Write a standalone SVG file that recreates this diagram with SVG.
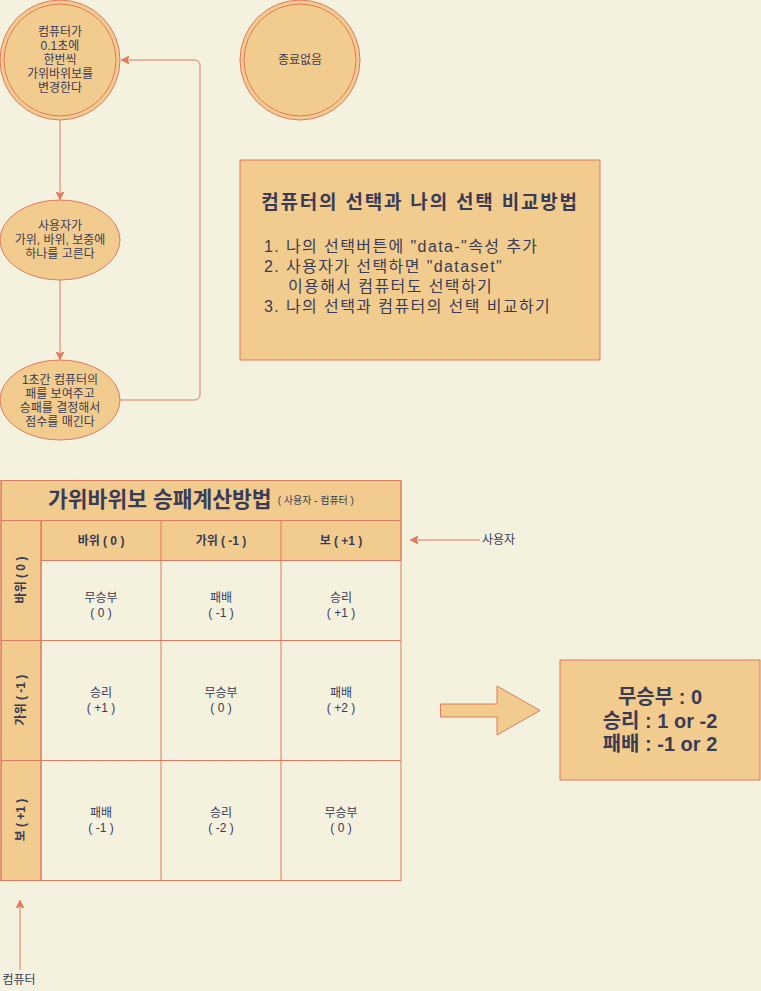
<svg xmlns="http://www.w3.org/2000/svg" width="761" height="991" viewBox="0 0 761 991">
<style>
text{font-family:"Liberation Sans","Noto Sans CJK KR",sans-serif;fill:#393C56;text-anchor:middle;dominant-baseline:central}
.s12{font-size:12px}
.b{font-weight:bold}
.shape{fill:#F2CC8F;stroke:#E07A5F;stroke-width:1}
.cell{fill:none;stroke:#E07A5F;stroke-width:1}
.conn{fill:none;stroke:#E07A5F;stroke-width:1}
.li{font-size:16px;text-anchor:start;letter-spacing:1.4px}
.sum{font-size:20px;font-weight:bold}
</style>
<defs>
<marker id="ah" viewBox="0 0 10 10" refX="9" refY="5" markerWidth="8" markerHeight="8" markerUnits="userSpaceOnUse" orient="auto">
<path d="M0,0 L10,5 L0,10 L2.5,5 Z" fill="#E07A5F" stroke="#E07A5F"/>
</marker>
</defs>
<rect width="761" height="991" fill="#F4F1DE"/>

<g id="node-start">
<circle class="shape" cx="60" cy="60" r="60"/>
<circle class="cell" cx="60" cy="60" r="56"/>
<text class="s12" x="60" y="32">컴퓨터가</text>
<text class="s12" x="60" y="46">0.1초에</text>
<text class="s12" x="60" y="60">한번씩</text>
<text class="s12" x="60" y="74">가위바위보를</text>
<text class="s12" x="60" y="88">변경한다</text>
</g>

<g id="node-end">
<circle class="shape" cx="300" cy="60" r="60"/>
<circle class="cell" cx="300" cy="60" r="56"/>
<text class="s12" x="300" y="60">종료없음</text>
</g>

<g id="node-user">
<ellipse class="shape" cx="60" cy="240" rx="60" ry="40"/>
<text class="s12" x="60" y="226">사용자가</text>
<text class="s12" x="60" y="240">가위, 바위, 보중에</text>
<text class="s12" x="60" y="254">하나를 고른다</text>
</g>

<g id="node-result">
<ellipse class="shape" cx="60" cy="400" rx="60" ry="40"/>
<text class="s12" x="60" y="380">1초간 컴퓨터의</text>
<text class="s12" x="60" y="394">패를 보여주고</text>
<text class="s12" x="60" y="408">승패를 결정해서</text>
<text class="s12" x="60" y="422">점수를 매긴다</text>
</g>

<g id="node-compare">
<rect class="shape" x="240" y="160" width="360" height="200"/>
<text class="b" x="420" y="202" style="font-size:19px;letter-spacing:1.8px">컴퓨터의 선택과 나의 선택 비교방법</text>
<text class="li" x="264" y="246">1. 나의 선택버튼에 "data-"속성 추가</text>
<text class="li" x="264" y="266">2. 사용자가 선택하면 "dataset"</text>
<text class="li" x="288" y="286">이용해서 컴퓨터도 선택하기</text>
<text class="li" x="264" y="306">3. 나의 선택과 컴퓨터의 선택 비교하기</text>
</g>

<g id="node-table">
<rect class="shape" x="1" y="480.5" width="400" height="40"/>
<rect class="shape" x="41" y="520.5" width="360" height="40"/>
<rect class="shape" x="1" y="520.5" width="40" height="360"/>
<rect class="cell" x="1" y="480.5" width="400" height="400"/>
<path class="cell" d="M41,560.5 H401 M1,640.5 H401 M1,760.5 H401 M41,520.5 V880.5 M161,520.5 V880.5 M281,520.5 V880.5"/>
<text x="201" y="500"><tspan class="b" style="font-size:21.5px">가위바위보 승패계산방법</tspan><tspan style="font-size:10px" dx="6">( 사용자 - 컴퓨터 )</tspan></text>
<text class="s12 b" x="101" y="541">바위 ( 0 )</text>
<text class="s12 b" x="221" y="541">가위 ( -1 )</text>
<text class="s12 b" x="341" y="541">보 ( +1 )</text>
<text class="s12 b" transform="translate(21,580) rotate(-90)">바위 ( 0 )</text>
<text class="s12 b" transform="translate(21,700) rotate(-90)">가위 ( -1 )</text>
<text class="s12 b" transform="translate(21,820) rotate(-90)">보 ( +1 )</text>
<text class="s12" x="101" y="598">무승부</text><text class="s12" x="101" y="613">( 0 )</text>
<text class="s12" x="221" y="598">패배</text><text class="s12" x="221" y="613">( -1 )</text>
<text class="s12" x="341" y="598">승리</text><text class="s12" x="341" y="613">( +1 )</text>
<text class="s12" x="101" y="693">승리</text><text class="s12" x="101" y="708">( +1 )</text>
<text class="s12" x="221" y="693">무승부</text><text class="s12" x="221" y="708">( 0 )</text>
<text class="s12" x="341" y="693">패배</text><text class="s12" x="341" y="708">( +2 )</text>
<text class="s12" x="101" y="813">패배</text><text class="s12" x="101" y="828">( -1 )</text>
<text class="s12" x="221" y="813">승리</text><text class="s12" x="221" y="828">( -2 )</text>
<text class="s12" x="341" y="813">무승부</text><text class="s12" x="341" y="828">( 0 )</text>
</g>

<g id="node-arrow">
<path class="shape" d="M440.5,704 H497 V686 L540,710.5 L497,735 V717 H440.5 Z"/>
</g>

<g id="node-summary">
<rect class="shape" x="560" y="660" width="200" height="120"/>
<text class="sum" x="660" y="697">무승부 : 0</text>
<text class="sum" x="660" y="721">승리 : 1 or -2</text>
<text class="sum" x="660" y="744">패배 : -1 or 2</text>
</g>

<g id="label-user">
<text class="s12" x="482" y="540" style="text-anchor:start">사용자</text>
</g>
<g id="label-computer">
<text class="s12" x="19" y="980">컴퓨터</text>
</g>

<g id="connectors">
<path class="conn" d="M60,120 V199" marker-end="url(#ah)"/>
<path class="conn" d="M60,280 V359" marker-end="url(#ah)"/>
<path class="conn" d="M120,400 H194 Q200,400 200,394 V66 Q200,60 194,60 H122" marker-end="url(#ah)"/>
<path class="conn" d="M480,540 H411" marker-end="url(#ah)"/>
<path class="conn" d="M20,970 V901" marker-end="url(#ah)"/>
</g>
</svg>
